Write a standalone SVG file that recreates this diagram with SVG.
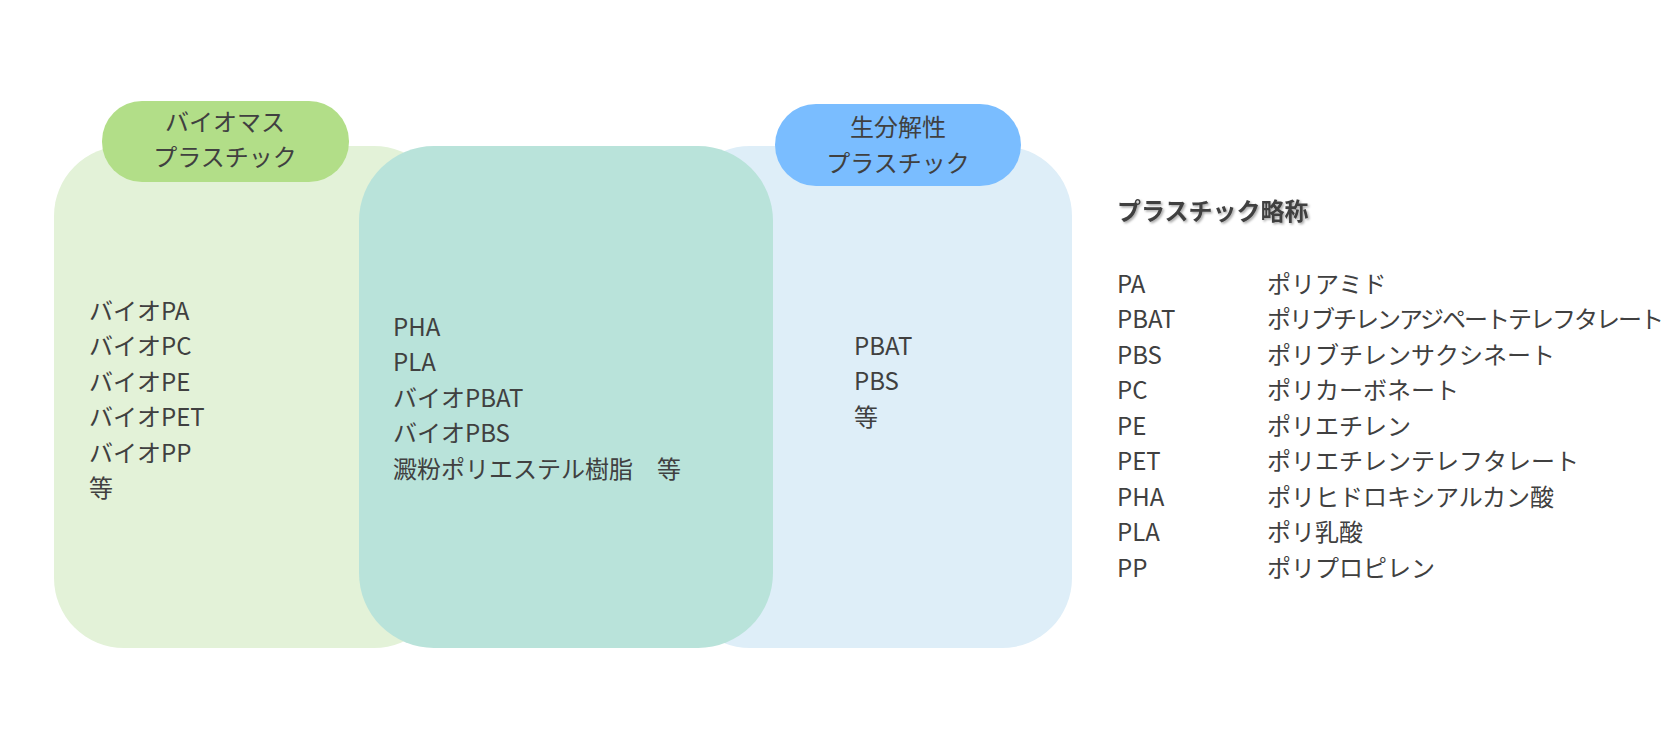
<svg xmlns="http://www.w3.org/2000/svg" width="1676" height="732" viewBox="0 0 1676 732">
<defs>
<style>
text{font-family:"Noto Sans CJK JP","Liberation Sans",sans-serif;fill:#404040;font-size:24px}
.c{text-anchor:middle}
.h{font-weight:bold;filter:url(#sh)}
</style>
<filter id="sh" x="-10%" y="-30%" width="120%" height="160%"><feDropShadow dx="1.5" dy="1.5" stdDeviation="1" flood-color="#000" flood-opacity="0.35"/></filter>
</defs>
<rect width="1676" height="732" fill="#fff"/>
<g id="biomass"><rect x="54" y="146" width="390" height="502" rx="70" fill="#E3F2D8"/></g>
<g id="biodeg"><rect x="680" y="146" width="392" height="502" rx="70" fill="#DEEEF8"/></g>
<g id="overlap"><rect x="359" y="146" width="414" height="502" rx="75" fill="#B9E3DA"/></g>
<g id="pill-biomass"><rect x="102" y="101" width="247" height="81" rx="40" fill="#B2DE88"/>
<text class="c" x="225" y="131">バイオマス</text><text class="c" x="225" y="166">プラスチック</text></g>
<g id="pill-biodeg"><rect x="775" y="104" width="246" height="82" rx="41" fill="#7ABDFF"/>
<text class="c" x="898" y="136">生分解性</text><text class="c" x="898" y="172">プラスチック</text></g>
<g id="list-biomass">
<text x="89" y="320">バイオPA</text><text x="89" y="355">バイオPC</text><text x="89" y="391">バイオPE</text><text x="89" y="426">バイオPET</text><text x="89" y="462">バイオPP</text><text x="89" y="497">等</text></g>
<g id="list-overlap">
<text x="393" y="336">PHA</text><text x="393" y="371">PLA</text><text x="393" y="407">バイオPBAT</text><text x="393" y="442">バイオPBS</text><text x="393" y="478">澱粉ポリエステル樹脂　等</text></g>
<g id="list-biodeg">
<text x="854" y="355">PBAT</text><text x="854" y="390">PBS</text><text x="854" y="426">等</text></g>
<g id="legend">
<text class="h" x="1117" y="220">プラスチック略称</text>
<text x="1117" y="293">PA</text><text x="1267" y="293">ポリアミド</text>
<text x="1117" y="328">PBAT</text><text x="1267" y="328" textLength="397">ポリブチレンアジペートテレフタレート</text>
<text x="1117" y="364">PBS</text><text x="1267" y="364">ポリブチレンサクシネート</text>
<text x="1117" y="399">PC</text><text x="1267" y="399">ポリカーボネート</text>
<text x="1117" y="435">PE</text><text x="1267" y="435">ポリエチレン</text>
<text x="1117" y="470">PET</text><text x="1267" y="470">ポリエチレンテレフタレート</text>
<text x="1117" y="506">PHA</text><text x="1267" y="506">ポリヒドロキシアルカン酸</text>
<text x="1117" y="541">PLA</text><text x="1267" y="541">ポリ乳酸</text>
<text x="1117" y="577">PP</text><text x="1267" y="577">ポリプロピレン</text>
</g>
<g id="connectors"/>
</svg>
